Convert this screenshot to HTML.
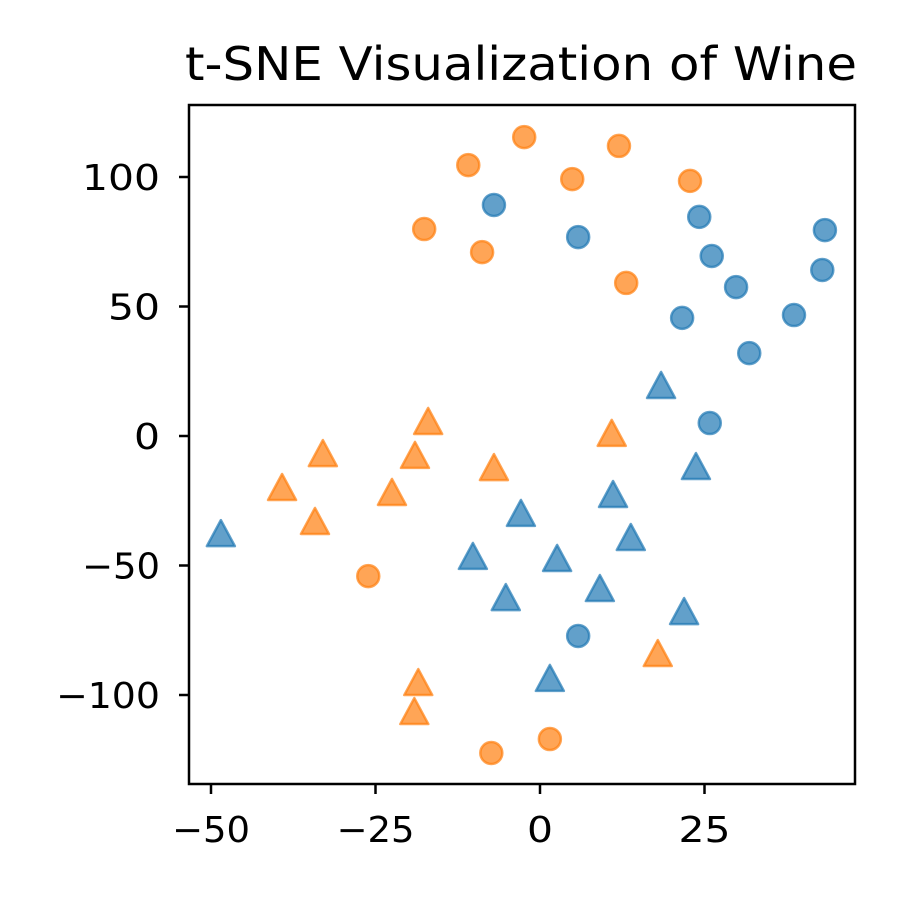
<!DOCTYPE html>
<html><head><meta charset="utf-8"><style>
body{margin:0;background:#fff}
svg text{font-family:"DejaVu Sans","Liberation Sans",sans-serif;fill:#000}
</style></head><body>
<svg id="chart" width="900" height="900" xmlns="http://www.w3.org/2000/svg">
<text x="521" y="80" font-size="46" text-anchor="middle" textLength="672" lengthAdjust="spacingAndGlyphs">t-SNE Visualization of Wine</text>
<g id="marks"></g>
<rect x="189" y="105" width="666" height="679" fill="none" stroke="#000" stroke-width="2.5"/>
<g id="axes"></g>
</svg>
<script>
const xTicks=[-50,-25,0,25];
const yTicks=[-100,-50,0,50,100];
const blueCircX=[-7.0,5.8,24.2,26.1,29.8,21.6,31.8,38.6,43.3,42.9,25.8,5.8];
const blueCircY=[89.2,76.8,84.6,69.5,57.5,45.6,32.0,46.7,79.5,64.1,5.0,-77.2];
const orangeCircX=[-2.4,-10.9,12.0,4.9,22.8,-17.6,-8.8,13.1,-26.1,-7.4,1.5];
const orangeCircY=[115.4,104.6,112.0,99.2,98.5,79.9,71.0,59.1,-54.1,-122.4,-117.0];
const blueTriX=[-48.5,18.4,23.7,11.1,-2.9,13.8,-10.2,2.6,-5.2,9.1,21.9,1.5];
const blueTriY=[-37.5,19.7,-11.6,-22.4,-29.7,-39.0,-46.3,-47.1,-62.2,-58.7,-67.6,-93.4];
const orangeTriX=[-17.0,-33.0,10.9,-19.0,-7.0,-39.2,-22.5,-34.2,17.9,-18.5,-19.1];
const orangeTriY=[5.8,-6.6,1.2,-7.3,-12.0,-19.7,-21.6,-32.8,-83.8,-95.0,-106.2];
const sx=v=>540+v*6.58, sy=v=>436-v*2.59;
const NS="http://www.w3.org/2000/svg";
const marks=document.getElementById('marks'), axes=document.getElementById('axes');
function mk(t,a,p){const e=document.createElementNS(NS,t);for(const k in a)e.setAttribute(k,a[k]);p.appendChild(e);return e;}
function circles(X,Y,c,name){X.forEach((x,i)=>{const e=mk('circle',{cx:sx(x),cy:sy(Y[i]),r:11,fill:c,'fill-opacity':0.7,stroke:c,'stroke-opacity':0.7,'stroke-width':2.5},marks);

});}
function tris(X,Y,c,name){X.forEach((x,i)=>{const cx=sx(x),cy=sy(Y[i]);const e=mk('polygon',{points:`${cx},${cy-13} ${cx-14},${cy+13} ${cx+14},${cy+13}`,fill:c,'fill-opacity':0.7,stroke:c,'stroke-opacity':0.7,'stroke-width':2.5,'stroke-linejoin':'round'},marks);

});}
circles(blueCircX,blueCircY,'#1f77b4','blue-circle-point');
circles(orangeCircX,orangeCircY,'#ff7f0e','orange-circle-point');
tris(blueTriX,blueTriY,'#1f77b4','blue-triangle-point');
tris(orangeTriX,orangeTriY,'#ff7f0e','orange-triangle-point');
const lbl=v=>v<0?'\u2212'+(-v):String(v);
const wid=s=>s.length*26;
xTicks.forEach(v=>{const x=sx(v);const l=mk('line',{x1:x,x2:x,y1:784,y2:794,stroke:'#000','stroke-width':2.5},axes);


const s=lbl(v);
const t=mk('text',{x:x,y:842,'font-size':36,'text-anchor':'middle',textLength:wid(s),lengthAdjust:'spacingAndGlyphs'},axes);t.textContent=s;

});
yTicks.forEach(v=>{const y=sy(v);const l=mk('line',{x1:179,x2:189,y1:y,y2:y,stroke:'#000','stroke-width':2.5},axes);


const s=lbl(v);
const t=mk('text',{x:160,y:y+13,'font-size':36,'text-anchor':'end',textLength:wid(s),lengthAdjust:'spacingAndGlyphs'},axes);t.textContent=s;

});
</script>
</body></html>
